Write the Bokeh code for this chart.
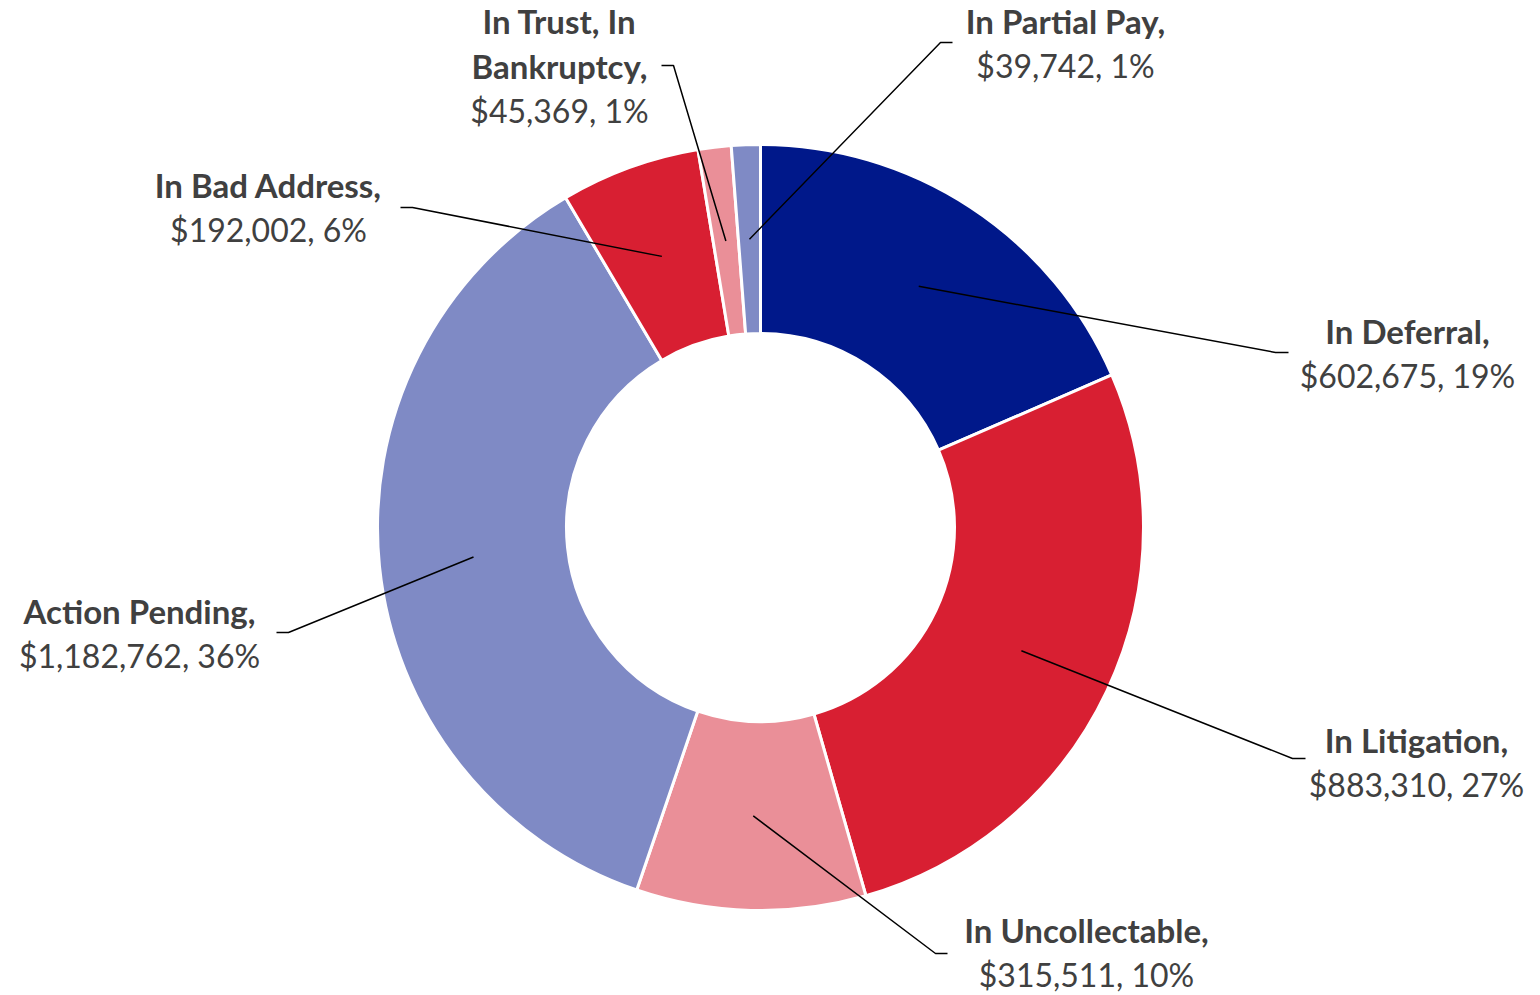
import math
from bokeh.plotting import figure
from bokeh.models import Range1d, ColumnDataSource
from bokeh.core.properties import value
from bokeh.embed import file_html
from bokeh.resources import INLINE

# ---- data ----
categories = ["In Deferral", "In Litigation", "In Uncollectable", "Action Pending",
              "In Bad Address", "In Trust, In Bankruptcy", "In Partial Pay"]
amounts = [602675, 883310, 315511, 1182762, 192002, 45369, 39742]
percents = [19, 27, 10, 36, 6, 1, 1]
colors = ["#00188A", "#D81F32", "#EA8F98", "#7F8AC5", "#D81F32", "#EA8F98", "#7F8AC5"]

# ---- layout (page pixel coordinates) ----
CX, CY = 760, 527
R_IN, R_OUT = 194, 383
label_pos = [(1407, 342), (1416, 751), (1086, 941), (139, 622), (268, 196), (559, 32), (1065, 32)]
name_lines = [["In Deferral,"], ["In Litigation,"], ["In Uncollectable,"], ["Action Pending,"],
              ["In Bad Address,"], ["In Trust, In", "Bankruptcy,"], ["In Partial Pay,"]]
elbows = [(1275, 352), (1292, 758), (935, 953), (288, 632), (412, 207), (673, 65), (940, 42)]
ends = [(1288, 352), (1305, 758), (947, 953), (276, 632), (400, 207), (661, 65), (952, 42)]
LINE_PITCH = 45
TEXT_DY = -12

W, H = 1540, 995


def Y(py):
    return H - py


p = figure(width=W, height=H, output_backend="svg", toolbar_location=None,
           x_range=Range1d(0, W), y_range=Range1d(0, H),
           x_axis_type=None, y_axis_type=None, min_border=0)
p.grid.visible = False
p.outline_line_color = None
p.background_fill_color = "white"
p.border_fill_color = "white"

total = sum(amounts)
starts, ends_a, mids = [], [], []
cum = 0.0
for a in amounts:
    f0 = cum / total
    cum += a
    f1 = cum / total
    starts.append(math.pi / 2 - f0 * 2 * math.pi)
    ends_a.append(math.pi / 2 - f1 * 2 * math.pi)
    mids.append((f0 + f1) / 2)

src = ColumnDataSource(dict(x=[CX] * len(amounts), y=[Y(CY)] * len(amounts),
                            s=starts, e=ends_a, c=colors))
p.annular_wedge(x="x", y="y", inner_radius=R_IN, outer_radius=R_OUT,
                start_angle="s", end_angle="e", direction="clock",
                fill_color="c", line_color="white", line_width=3, source=src)

# leader lines
r_mid = (R_IN + R_OUT) / 2
xs, ys = [], []
for i, m in enumerate(mids):
    ang = m * 2 * math.pi
    sx = CX + r_mid * math.sin(ang)
    sy = CY - r_mid * math.cos(ang)
    xs.append([sx, elbows[i][0], ends[i][0]])
    ys.append([Y(sy), Y(elbows[i][1]), Y(ends[i][1])])
p.multi_line(xs=xs, ys=ys, line_color="black", line_width=1.5)

# labels
bx, by, bt = [], [], []
rx, ry, rt = [], [], []
for i in range(len(categories)):
    lx, ly = label_pos[i]
    ly += TEXT_DY
    for j, ln in enumerate(name_lines[i]):
        bx.append(lx)
        by.append(Y(ly + j * LINE_PITCH))
        bt.append(ln)
    rx.append(lx)
    ry.append(Y(ly + len(name_lines[i]) * LINE_PITCH))
    rt.append("${:,}, {}%".format(amounts[i], percents[i]))

p.text(x=bx, y=by, text=bt, text_align="center", text_baseline="alphabetic",
       text_font=value("Lato"), text_font_style="bold", text_font_size="33px",
       text_color="#404040")
p.text(x=rx, y=ry, text=rt, text_align="center", text_baseline="alphabetic",
       text_font=value("Lato"), text_font_size="32px", text_color="#404040")

open("out.html", "w").write(file_html(p, INLINE))
